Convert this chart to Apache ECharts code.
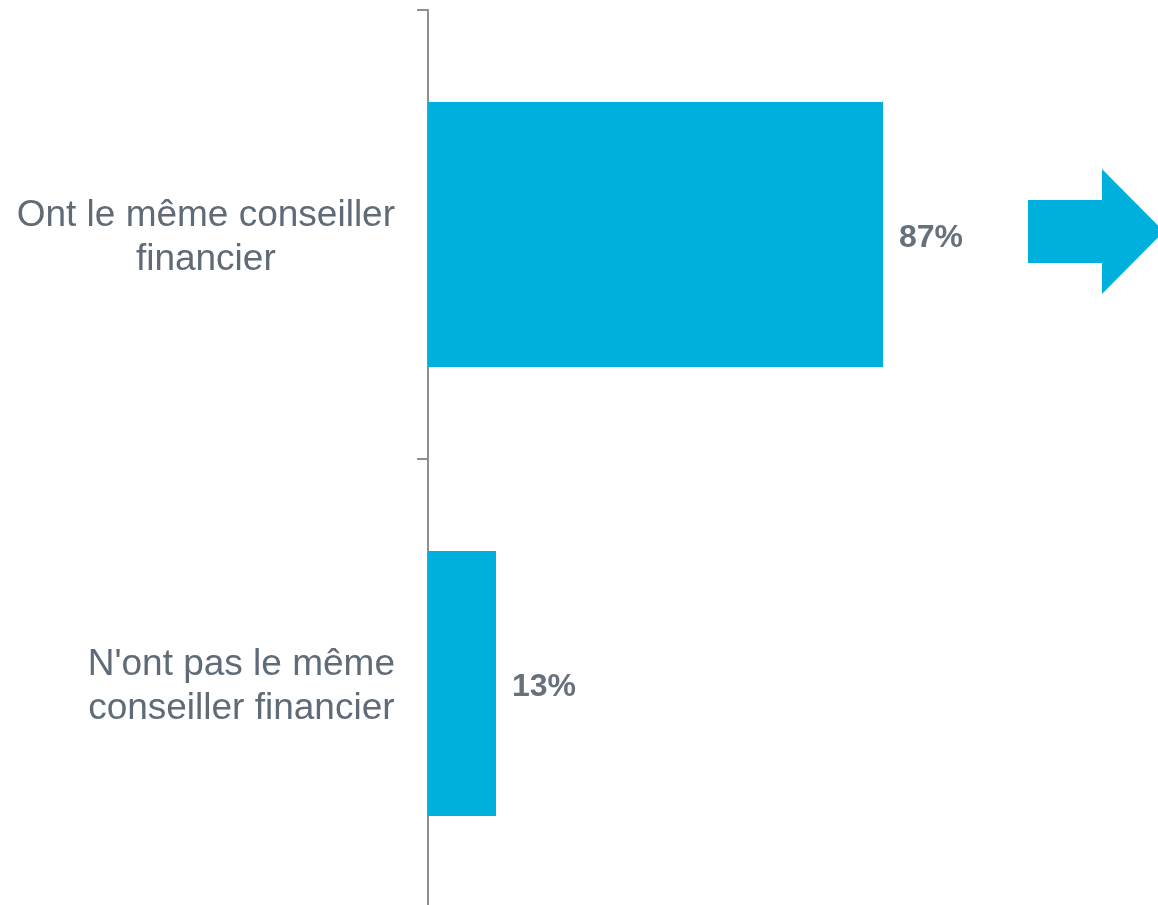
<!DOCTYPE html>
<html>
<head>
<meta charset="utf-8">
<script src="https://cdn.jsdelivr.net/npm/echarts@6/dist/echarts.min.js"></script>
<style>
html,body{margin:0;padding:0;background:#fff;}
#chart{width:1158px;height:905px;}
</style>
</head>
<body>
<div id="chart"></div>
<script>
var categories = ["Ont le même conseiller\nfinancier", "N'ont pas le même\nconseiller financier"];
var values = [87, 13];

var chart = echarts.init(document.getElementById('chart'), null, {renderer: 'canvas'});
var option = {
  animation: false,
  backgroundColor: '#ffffff',
  grid: {left: 428, top: 10, width: 523, height: 898, containLabel: false, outerBoundsMode: 'none'},
  xAxis: {
    type: 'value', min: 0, max: 100, show: false
  },
  yAxis: {
    type: 'category',
    inverse: true,
    data: categories,
    axisLine: {show: true, lineStyle: {color: '#8e8e8e', width: 2}},
    axisTick: {show: true, length: 11, lineStyle: {color: '#8e8e8e', width: 2}},
    axisLabel: {
      margin: 33,
      padding: [6, 0, 0, 0],
      fontFamily: 'Liberation Sans, Arial, sans-serif',
      fontSize: 37,
      color: '#5f6b76',
      lineHeight: 44,
      formatter: function (v) {
        return v.split('\n').map(function (s) { return '{c|' + s + '}'; }).join('\n');
      },
      rich: {
        c: {align: 'center', fontSize: 37, lineHeight: 44, color: '#5f6b76', fontFamily: 'Liberation Sans, Arial, sans-serif'}
      }
    },
    splitLine: {show: false}
  },
  series: [{
    type: 'bar',
    data: values,
    barCategoryGap: '41%',
    itemStyle: {color: '#00b0dc'},
    label: {
      show: true,
      position: 'right',
      distance: 16,
      offset: [0, 4],
      formatter: '{c}%',
      fontFamily: 'Liberation Sans, Arial, sans-serif',
      fontWeight: 'bold',
      fontSize: 32,
      color: '#67717b'
    }
  }],
  graphic: [{
    type: 'polygon',
    shape: {points: [[1028, 200], [1102, 200], [1102, 169], [1164, 231.5], [1102, 294], [1102, 263], [1028, 263]]},
    style: {fill: '#00b0dc'}
  }]
};
chart.setOption(option);
</script>
</body>
</html>
